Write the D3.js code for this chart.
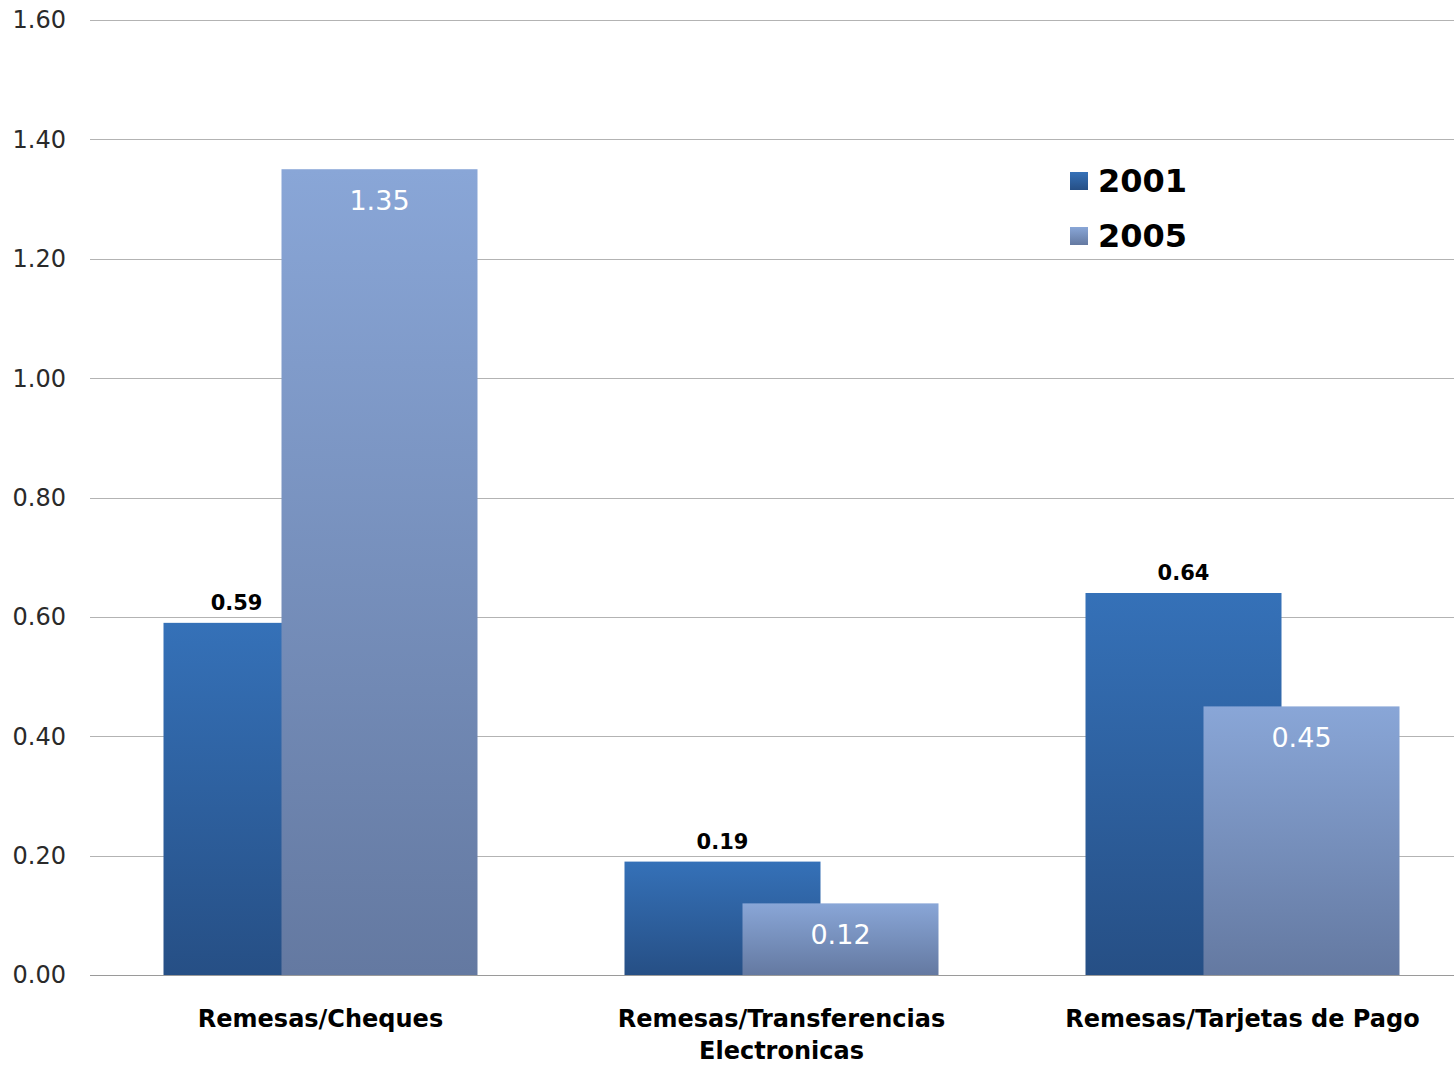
<!DOCTYPE html>
<html><head><meta charset="utf-8">
<script src="https://cdn.jsdelivr.net/npm/d3@7"></script>
<style>body{margin:0;background:#fff}svg{display:block}</style>
</head><body>
<script>
const categories = [["Remesas/Cheques"], ["Remesas/Transferencias", "Electronicas"], ["Remesas/Tarjetas de Pago"]];
const series = ["2001", "2005"];
const values2001 = [0.59, 0.19, 0.64];
const values2005 = [1.35, 0.12, 0.45];
const yTicks = [0, 0.2, 0.4, 0.6, 0.8, 1.0, 1.2, 1.4, 1.6];

const W = 1454, H = 1066;
const svg = d3.select("body").append("svg").attr("width", W).attr("height", H);
const font = "'DejaVu Sans', Verdana, sans-serif";

const x = d3.scaleBand().domain(d3.range(categories.length)).range([90, 1473]).padding(0);
const y = d3.scaleLinear().domain([0, 1.6]).range([975, 20]);

const defs = svg.append("defs");
function grad(id, top, bottom) {
  const g = defs.append("linearGradient").attr("id", id).attr("x1", 0).attr("y1", 0).attr("x2", 0).attr("y2", 1);
  g.append("stop").attr("offset", 0).attr("stop-color", top);
  g.append("stop").attr("offset", 1).attr("stop-color", bottom);
}
grad("g2001", "#3571B8", "#264F85");
grad("g2005", "#89A6D7", "#6479A1");

// gridlines
svg.append("g").selectAll("line").data(yTicks).join("line")
  .attr("x1", 90).attr("x2", W).attr("y1", d => Math.round(y(d)) + 0.5).attr("y2", d => Math.round(y(d)) + 0.5)
  .attr("stroke", d => d === 0 ? "#9a9a9a" : "#b3b3b3").attr("stroke-width", 1);

// y tick labels
svg.append("g").selectAll("text").data(yTicks).join("text")
  .attr("x", 66).attr("y", d => y(d)).attr("dy", "0.35em").attr("text-anchor", "end")
  .attr("font-family", font).attr("font-size", 24).attr("fill", "#2a2a2a")
  .text(d => d3.format(".2f")(d));

const barW = 196, offset = 118;
const groupW = barW + offset;
function bx(i, s) { return x(i) + x.bandwidth() / 2 - groupW / 2 + (s === 0 ? 0 : offset); }

// bars 2001
svg.append("g").selectAll("rect").data(values2001).join("rect")
  .attr("x", (d, i) => bx(i, 0)).attr("width", barW)
  .attr("y", d => y(d)).attr("height", d => y(0) - y(d))
  .attr("fill", "url(#g2001)");
// bars 2005
svg.append("g").selectAll("rect").data(values2005).join("rect")
  .attr("x", (d, i) => bx(i, 1)).attr("width", barW)
  .attr("y", d => y(d)).attr("height", d => y(0) - y(d))
  .attr("fill", "url(#g2005)");

// labels 2001 (shifted left if they would collide with a taller 2005 bar)
svg.append("g").selectAll("text").data(values2001).join("text")
  .attr("y", d => y(d) - 20).attr("dy", "0.35em")
  .attr("text-anchor", "middle").attr("font-family", font).attr("font-size", 21).attr("font-weight", "bold")
  .attr("fill", "#000").text(d => d3.format(".2f")(d))
  .attr("x", function(d, i) {
    let cx = bx(i, 0) + barW / 2;
    const w = this.getComputedTextLength();
    if (values2005[i] > d) {
      const maxRight = bx(i, 1) - 19;
      if (cx + w / 2 > maxRight) cx = maxRight - w / 2;
    }
    return cx;
  });
// labels 2005
svg.append("g").selectAll("text").data(values2005).join("text")
  .attr("x", (d, i) => bx(i, 1) + barW / 2).attr("y", d => y(d) + 31).attr("dy", "0.35em")
  .attr("text-anchor", "middle").attr("font-family", font).attr("font-size", 27)
  .attr("fill", "#fff").text(d => d3.format(".2f")(d));

// category labels
const cat = svg.append("g").selectAll("text").data(categories).join("text")
  .attr("x", (d, i) => x(i) + x.bandwidth() / 2).attr("y", 1019)
  .attr("text-anchor", "middle").attr("font-family", font).attr("font-size", 24).attr("font-weight", "bold")
  .attr("fill", "#000");
cat.selectAll("tspan").data(d => d).join("tspan")
  .attr("x", function() { return d3.select(this.parentNode).attr("x"); })
  .attr("dy", (d, j) => j === 0 ? "0.35em" : "1.3em").text(d => d);

// legend
const legend = svg.append("g");
const lg = legend.selectAll("g").data(series).join("g")
  .attr("transform", (d, i) => `translate(1070, ${181 + i * 55})`);
lg.append("rect").attr("x", 0).attr("y", -9).attr("width", 18).attr("height", 18)
  .attr("fill", (d, i) => i === 0 ? "url(#g2001)" : "url(#g2005)");
lg.append("text").attr("x", 28).attr("y", 0).attr("dy", "0.35em")
  .attr("font-family", font).attr("font-size", 32).attr("font-weight", "bold").attr("fill", "#000")
  .text(d => d);
</script>
</body></html>
